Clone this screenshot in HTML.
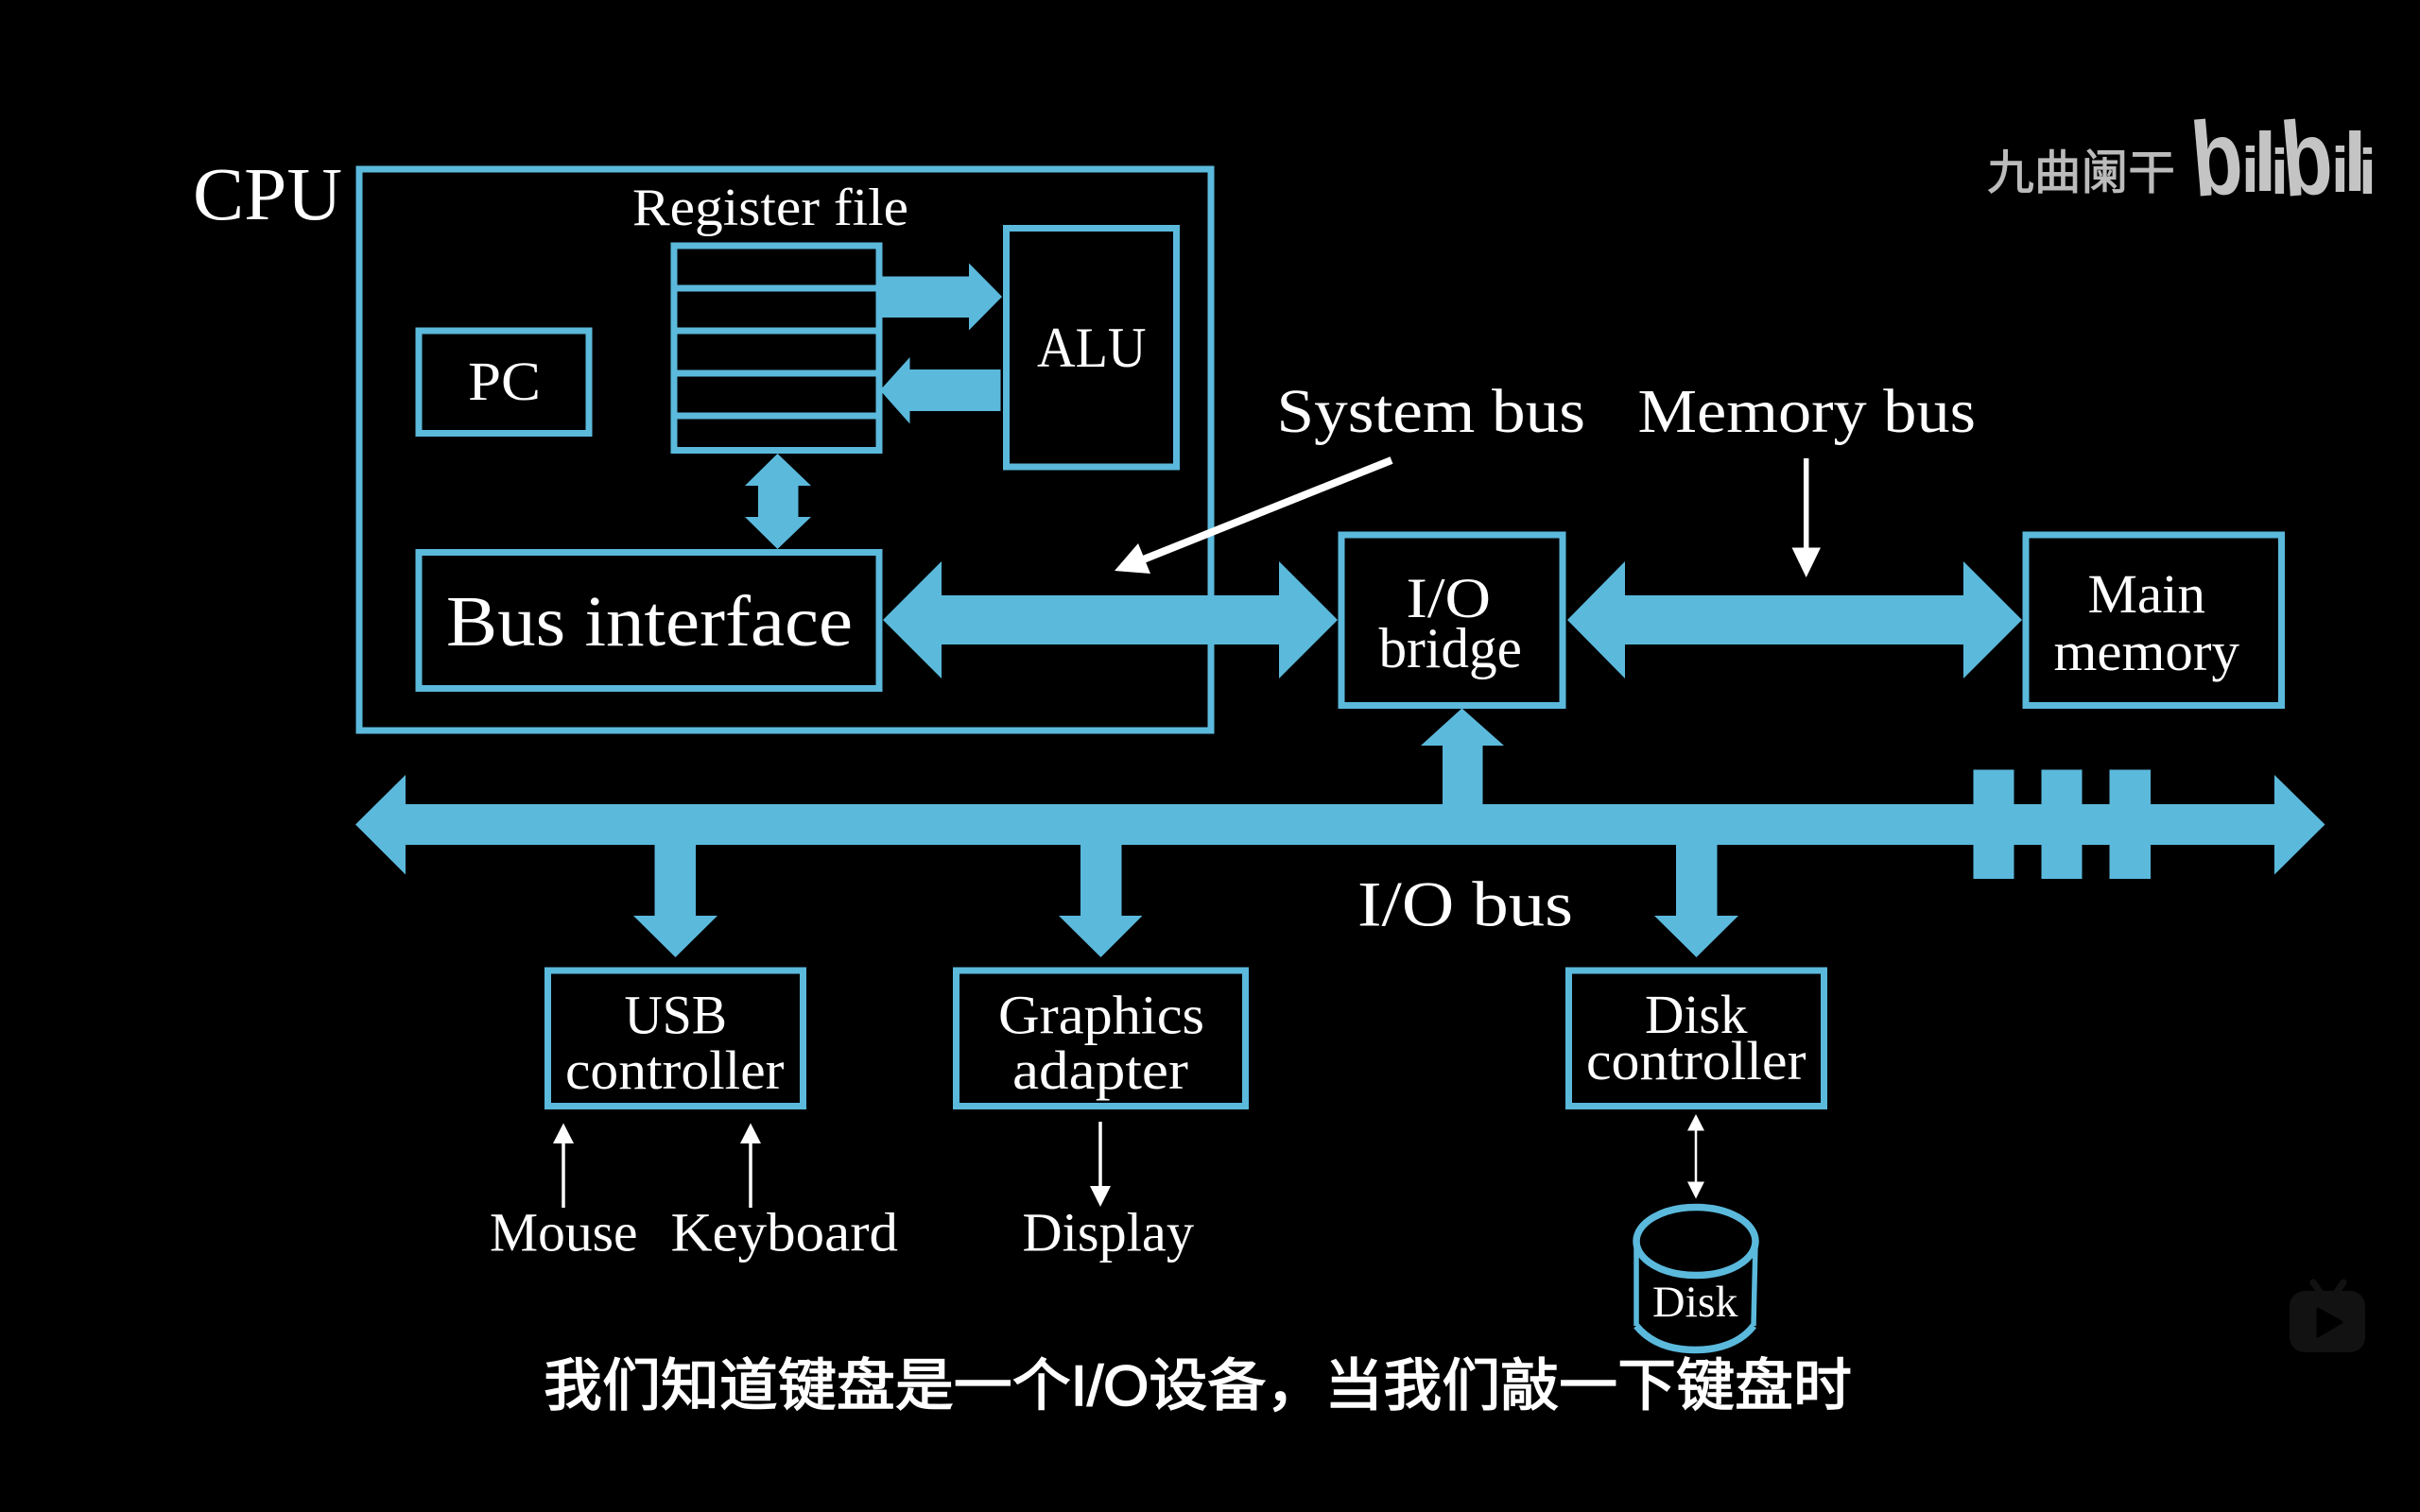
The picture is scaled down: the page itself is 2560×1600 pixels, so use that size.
<!DOCTYPE html>
<html><head><meta charset="utf-8"><style>
html,body{margin:0;padding:0;background:#000;width:2560px;height:1600px;overflow:hidden}
svg{display:block}
.t{font-family:"Liberation Serif","DejaVu Serif",serif;fill:#fff}
.s{font-family:"Liberation Sans","Noto Sans CJK SC",sans-serif}
</style></head><body>
<svg width="2560" height="1600" viewBox="0 0 2560 1600" xmlns="http://www.w3.org/2000/svg">
<rect width="2560" height="1600" fill="#000"/>
<g fill="none" stroke="#5bb9dc" stroke-width="7">
<rect x="380" y="179" width="901" height="594"/>
<rect x="713" y="260" width="217" height="216.500"/>
<path d="M713 305H930M713 350H930M713 395H930M713 440H930"/>
<rect x="1064.500" y="241.500" width="180" height="252.500"/>
<rect x="443" y="350" width="180" height="108.500"/>
<rect x="443" y="584.500" width="487" height="144"/>
<rect x="1419" y="566" width="234" height="180.500"/>
<rect x="2143" y="566" width="270.500" height="180.500"/>
<rect x="579.500" y="1027" width="270" height="143.500"/>
<rect x="1011.500" y="1027" width="306" height="143.500"/>
<rect x="1659.500" y="1027" width="270" height="143.500"/>
</g>
<g fill="#5bb9dc">
<polygon points="931,292.500 1025,292.500 1025,278.500 1060,314 1025,349.500 1025,336 931,336"/>
<polygon points="1058.500,391 962.500,391 962.500,378 931,413 962.500,448.500 962.500,435 1058.500,435"/>
<polygon points="822.500,480 858,514 844.500,514 844.500,547 858,547 822.500,581 788,547 802,547 802,514 788,514"/>
<polygon points="934,656 996,594 996,630 1353,630 1353,594 1415,656 1353,718 1353,682 996,682 996,718"/>
<polygon points="1658,656 1719,594 1719,630 2077,630 2077,594 2139,656 2077,718 2077,682 1719,682 1719,718"/>
<polygon points="376,872.500 429,820 429,851 2406,851 2406,820 2459.500,872.500 2406,925.500 2406,894 429,894 429,925.500"/>
<rect x="2087.500" y="814.500" width="43" height="115.500"/>
<rect x="2159.500" y="814.500" width="43" height="115.500"/>
<rect x="2231.500" y="814.500" width="43.500" height="115.500"/>
<polygon points="1546.500,749.500 1591,789 1568.500,789 1568.500,851 1526,851 1526,789 1503,789"/>
<polygon points="692.500,894 736,894 736,969 759,969 714.500,1013 670,969 692.500,969"/>
<polygon points="1143,894 1186.500,894 1186.500,969 1208.500,969 1164.500,1013 1120,969 1143,969"/>
<polygon points="1773,894 1816.500,894 1816.500,969 1839,969 1794.500,1013 1750,969 1773,969"/>
</g>
<g fill="#fff" stroke="none">
<polygon points="1179,604 1217,607 1204,575"/>
<polygon points="1895.500,579.500 1926,579.500 1910.700,611"/>
<polygon points="585,1210 607,1210 596,1188.500"/>
<polygon points="783,1210 805,1210 794,1188.500"/>
<polygon points="1153,1255 1175,1255 1164,1277"/>
<polygon points="1785,1196.500 1803,1196.500 1794,1179"/>
<polygon points="1785,1250.500 1803,1250.500 1794,1268.500"/>
</g>
<g stroke="#fff" fill="none">
<line x1="1472" y1="487" x2="1207" y2="593" stroke-width="8"/>
<line x1="1910.700" y1="485" x2="1910.700" y2="582" stroke-width="5.500"/>
<line x1="596" y1="1208" x2="596" y2="1278" stroke-width="3.500"/>
<line x1="794" y1="1208" x2="794" y2="1278" stroke-width="3.500"/>
<line x1="1164" y1="1187" x2="1164" y2="1257" stroke-width="3.500"/>
<line x1="1794" y1="1195" x2="1794" y2="1252" stroke-width="2.500"/>
</g>
<g fill="none" stroke="#5bb9dc">
<ellipse cx="1794" cy="1313.500" rx="63" ry="36" stroke-width="7.500"/>
<path d="M1731 1315V1403M1857 1315L1855 1403" stroke-width="5.500"/>
<path d="M1731 1403C1745 1420 1765 1428.500 1793 1428.500C1820 1428.500 1842 1420 1855 1403" stroke-width="7.500"/>
</g>
<g class="t">
<text x="204" y="232" font-size="79" textLength="158" lengthAdjust="spacingAndGlyphs">CPU</text>
<text x="669" y="238" font-size="56" textLength="292" lengthAdjust="spacingAndGlyphs">Register file</text>
<text x="495" y="423" font-size="58" textLength="77" lengthAdjust="spacingAndGlyphs">PC</text>
<text x="1097" y="388" font-size="60" textLength="115.500" lengthAdjust="spacingAndGlyphs">ALU</text>
<text x="472" y="683" font-size="76" textLength="430" lengthAdjust="spacingAndGlyphs">Bus interface</text>
<text x="1350.500" y="457" font-size="66" textLength="326.500" lengthAdjust="spacingAndGlyphs">System bus</text>
<text x="1732.500" y="457" font-size="66" textLength="357.500" lengthAdjust="spacingAndGlyphs">Memory bus</text>
<text x="1487.500" y="653" font-size="60" textLength="89.500" lengthAdjust="spacingAndGlyphs">I/O</text>
<text x="1458.500" y="706" font-size="60" textLength="151.500" lengthAdjust="spacingAndGlyphs">bridge</text>
<text x="2208.500" y="648" font-size="58" textLength="124.500" lengthAdjust="spacingAndGlyphs">Main</text>
<text x="2172.500" y="709" font-size="58" textLength="196.500" lengthAdjust="spacingAndGlyphs">memory</text>
<text x="1436" y="979.500" font-size="68" textLength="228" lengthAdjust="spacingAndGlyphs">I/O bus</text>
<text x="660.500" y="1093.500" font-size="58" textLength="108.500" lengthAdjust="spacingAndGlyphs">USB</text>
<text x="598" y="1152" font-size="58" textLength="231.500" lengthAdjust="spacingAndGlyphs">controller</text>
<text x="1056" y="1093.500" font-size="58" textLength="218" lengthAdjust="spacingAndGlyphs">Graphics</text>
<text x="1071" y="1152" font-size="58" textLength="186" lengthAdjust="spacingAndGlyphs">adapter</text>
<text x="1740" y="1093" font-size="58" textLength="108.500" lengthAdjust="spacingAndGlyphs">Disk</text>
<text x="1678" y="1142" font-size="58" textLength="232.500" lengthAdjust="spacingAndGlyphs">controller</text>
<text x="518" y="1323.500" font-size="58" textLength="156.500" lengthAdjust="spacingAndGlyphs">Mouse</text>
<text x="709.500" y="1323.500" font-size="58" textLength="240.500" lengthAdjust="spacingAndGlyphs">Keyboard</text>
<text x="1081.500" y="1323.500" font-size="58" textLength="181.500" lengthAdjust="spacingAndGlyphs">Display</text>
<text x="1748" y="1393" font-size="47" textLength="90.500" lengthAdjust="spacingAndGlyphs">Disk</text>
</g>
<text class="s" x="575" y="1487" font-size="60" font-weight="400" fill="#fff" stroke="#fff" stroke-width="1.500" textLength="1384" lengthAdjust="spacingAndGlyphs">我们知道键盘是一个I/O设备，当我们敲一下键盘时</text>
<text class="s" x="2102" y="200" font-size="50" font-weight="400" fill="#bbb" stroke="#bbb" stroke-width="1" textLength="199" lengthAdjust="spacingAndGlyphs">九曲阑干</text>
<g class="s" fill="#c4c4c4" font-weight="700">
<text transform="translate(2322,208) rotate(-5) scale(0.78,1)" font-size="112">b</text>
<text transform="translate(2371,203)" font-size="68">i</text>
<text transform="translate(2384,202)" font-size="88">l</text>
<text transform="translate(2402,205)" font-size="68">i</text>
<text transform="translate(2417,208) rotate(-5) scale(0.78,1)" font-size="112">b</text>
<text transform="translate(2466,203)" font-size="68">i</text>
<text transform="translate(2479,202)" font-size="88">l</text>
<text transform="translate(2495,205)" font-size="68">i</text>
</g>
<g>
<rect x="2422" y="1366" width="80" height="65" rx="16" fill="#121212"/>
<path d="M2447 1357L2456 1370M2479 1357L2470 1370" stroke="#121212" stroke-width="7" stroke-linecap="round"/>
<path d="M2452 1385L2477 1399L2452 1414Z" fill="#000" stroke="#000" stroke-width="3" stroke-linejoin="round"/>
</g>
</svg>
</body></html>
